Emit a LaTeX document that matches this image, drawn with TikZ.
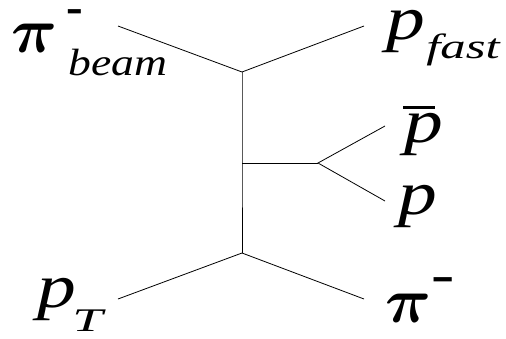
\RequirePackage{fix-cm}
\documentclass[tikz,border=0pt]{standalone}
\usepackage{fontspec}
\setmainfont{Liberation Serif}
\newfontfamily\tms{Liberation Serif}
\tikzset{
  leg/.style={line width=0.8pt, black},
  big/.style={inner sep=0pt, anchor=base west, text height=28pt, text depth=13pt,
    font=\fontsize{62}{62}\selectfont\tms\itshape, xscale=1.25},
  bigpi/.style={inner sep=0pt, anchor=base west, text height=28pt, text depth=0pt,
    font=\boldmath\fontsize{64}{64}\selectfont},
  sub/.style={inner sep=0pt, anchor=base west, text height=24pt, text depth=0pt,
    font=\tms\itshape},
  mns/.style={inner sep=0pt, anchor=base west, text height=0pt, text depth=0pt,
    font=\fontsize{50}{50}\selectfont\tms\bfseries}
}
\begin{document}
\begin{tikzpicture}[x=1pt,y=-1pt]
\useasboundingbox[fill=white] (0,0) rectangle (506,338);
% vertices
\coordinate (vt) at (242,72);
\coordinate (vm) at (242,163);
\coordinate (vb) at (242,253);
\coordinate (vs) at (318,163);
% free ends
\coordinate (ebeam) at (118,26);
\coordinate (efast) at (364,26);
\coordinate (epbar) at (385,126);
\coordinate (ep) at (385,201);
\coordinate (ept) at (118,299);
\coordinate (epi) at (364,299);
\draw[leg] (ebeam) -- (vt) -- (efast);
\draw[leg] (vt) -- (vm) -- (vb);
\draw[leg] (vm) -- (vs);
\draw[leg] (epbar) -- (vs) -- (ep);
\draw[leg] (ept) -- (vb) -- (epi);
% labels
\node[bigpi] (pibeam) at (11,52) {$\pi$};
\node[mns] (mbeam) at (66,23.5) {-};
\node[sub, font=\fontsize{38}{38}\selectfont\tms\itshape, xscale=1.2] (beam) at (68,75) {beam};
\node[big] (pfast) at (386,39) {p};
\node[sub, font=\fontsize{35}{35}\selectfont\tms\itshape, xscale=1.45] (fast) at (426,58) {fast};
\node[big] (pbar) at (404,142) {p};
\draw[line width=3pt] (403,107.5) -- (435,107.5);
\node[big] (pp) at (398,214) {p};
\node[big] (pT) at (37,307) {p};
\node[sub, font=\fontsize{33}{33}\selectfont\tms\itshape, xscale=1.65] (T) at (72,331) {T};
\node[bigpi] (piout) at (385,322) {$\pi$};
\node[mns, xscale=1.4] (mout) at (431,291.5) {-};
\end{tikzpicture}
\end{document}
